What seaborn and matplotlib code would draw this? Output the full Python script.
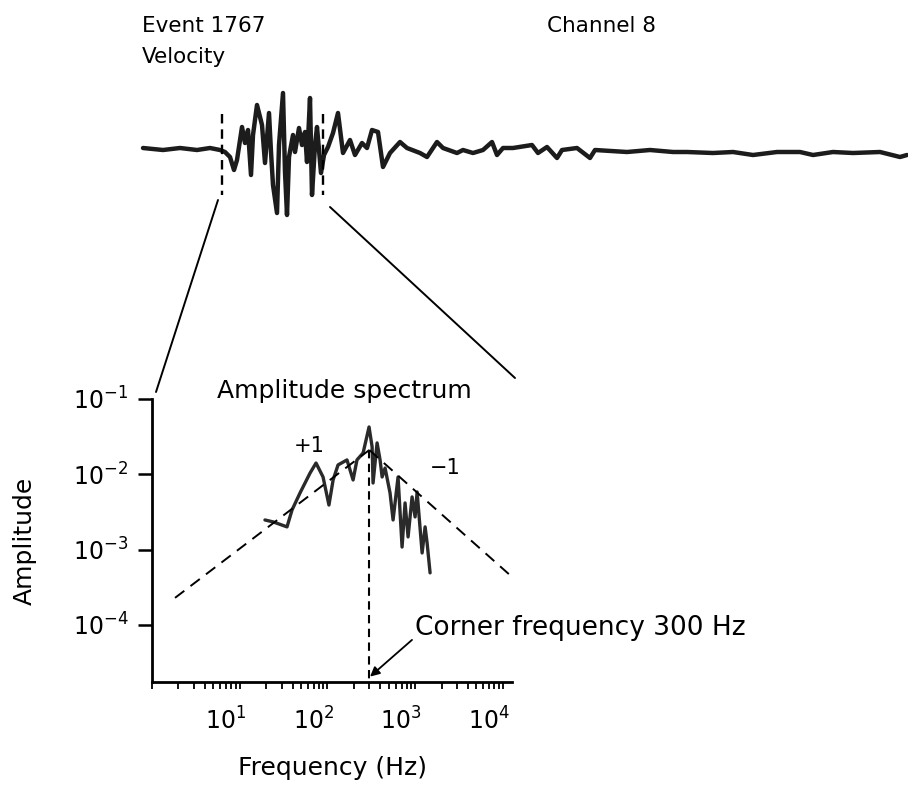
import matplotlib
matplotlib.use("Agg")
import matplotlib.pyplot as plt
import pandas as pd
import seaborn as sns
from matplotlib.lines import Line2D
from matplotlib.ticker import FixedLocator, LogLocator, NullLocator, NullFormatter
from matplotlib.transforms import ScaledTranslation

# Velocity trace (arbitrary units)
time_ms = [0.3, 2.3, 4.0, 5.7, 7.0, 8.0, 8.5, 9.0, 9.4, 9.7,
           10.2, 10.5, 10.8, 11.1, 11.3, 11.7, 12.2, 12.5, 12.9, 13.1,
           13.3, 13.7, 13.9, 14.3, 14.5, 14.7, 14.9, 15.3, 15.5, 15.9,
           16.2, 16.5, 16.7, 17.0, 17.2, 17.5, 17.7, 18.1, 18.4, 18.8,
           19.3, 19.8, 20.3, 21.0, 21.5, 22.2, 22.7, 23.2, 23.8, 24.3,
           25.0, 26.0, 26.7, 28.0, 28.7, 29.7, 30.3, 31.7, 32.3, 33.3,
           34.3, 35.2, 35.7, 36.3, 37.3, 39.2, 39.8, 40.7, 41.7, 42.2,
           43.7, 45.0, 45.5, 48.7, 51.0, 53.3, 54.7, 57.3, 59.3, 61.3,
           63.7, 66.0, 67.3, 69.3, 71.3, 74.0, 76.0, 76.7]
velocity = [0.2, 0.0, 0.2, 0.0, 0.2, 0.0, -0.2, -0.7, -2.0, -1.0,
            2.3, 0.7, 2.0, -2.5, 1.5, 4.5, 2.5, -1.3, 3.7, -0.2,
            -3.5, -6.3, 0.5, 5.7, -2.2, -6.5, -0.7, 1.5, -0.2, 2.2,
            0.5, 1.8, -1.2, 5.2, -4.5, 0.5, 2.3, -2.3, -0.5, 0.3,
            1.7, 3.7, -0.3, 1.0, -0.5, 0.7, 0.2, 2.0, 1.8, -1.7,
            -0.3, 0.8, 0.2, -0.3, -0.7, 0.8, 0.2, -0.3, 0.0, -0.3,
            0.0, 0.8, -0.5, 0.2, 0.2, 0.5, -0.3, 0.3, -0.8, 0.0,
            0.2, -0.8, 0.0, -0.2, 0.0, -0.2, -0.2, -0.3, -0.2, -0.5,
            -0.2, -0.2, -0.5, -0.2, -0.3, -0.2, -0.7, -0.5]
window_ms = [8.2, 18.3]
window_v = [3.6, -4.5]

# Amplitude spectrum of the windowed part
spec_freq = [19.4, 24, 34.6, 39.5, 48.7, 63.4, 74.1, 89.1, 104, 116,
             132, 167, 196, 217, 255, 298, 323, 331, 368, 398,
             420, 454, 517, 560, 638, 709, 767, 830, 922, 998,
             1052, 1200, 1298, 1368, 1479]
spec_amp = [2.47e-3, 2.33e-3, 2.0e-3, 3.36e-3, 5.65e-3, 1.04e-2, 1.41e-2, 9.2e-3, 3.9e-3, 8.4e-3,
            1.33e-2, 1.55e-2, 8.4e-3, 1.55e-2, 1.92e-2, 4.25e-2, 2.31e-2, 7.66e-3, 2.61e-2, 1.55e-2,
            9.2e-3, 1.21e-2, 5.65e-3, 2.47e-3, 9.2e-3, 1.08e-3, 4.16e-3, 1.47e-3, 5.0e-3, 2.71e-3,
            5.82e-3, 9.0e-4, 2.0e-3, 1.22e-3, 4.9e-4]

# slope +1 / -1 asymptotes and corner frequency
corner_hz = 300
corner_amp = 2.1e-2
fit_left_freq = [1.83, corner_hz]
fit_left_amp = [2.28e-4, corner_amp]
fit_right_freq = [corner_hz, 1.27e4]
fit_right_amp = [corner_amp, 4.33e-4]

x_ticks = [10, 100, 1000, 10000]
x_tick_labels = ['$10^{1}$', '$10^{2}$', '$10^{3}$', '$10^{4}$']
y_ticks = [1e-4, 1e-3, 1e-2, 1e-1]
y_tick_labels = ['$10^{-4}$', '$10^{-3}$', '$10^{-2}$', '$10^{-1}$']

sns.set_theme(style="ticks", rc={"axes.edgecolor": "black", "text.color": "black",
                                 "xtick.color": "black", "ytick.color": "black",
                                 "axes.labelcolor": "black"})
plt.rcParams['font.family'] = ['DejaVu Sans']

W, H = 908, 788
fig = plt.figure(figsize=(W / 100, H / 100), dpi=100)


def box(x0, y0, x1, y1):
    # pixel box (top-left origin) -> figure rect
    return [x0 / W, 1 - y1 / H, (x1 - x0) / W, (y1 - y0) / H]


def fpos(x, y):
    return x / W, 1 - y / H


# --- seismogram ---
ax_tr = fig.add_axes(box(140, 85, 908, 220))
trace = pd.DataFrame({'t': time_ms, 'v': velocity})
sns.lineplot(data=trace, x='t', y='v', ax=ax_tr, color='#1c1c1c', lw=3.2,
             estimator=None, sort=False)
for t0 in window_ms:
    ax_tr.plot([t0, t0], window_v, color='black', lw=1.7, ls=(0, (4, 2.5)))
ax_tr.set_xlim(0, 76.8)
ax_tr.set_ylim(-7.0, 6.5)
ax_tr.axis('off')

fig.text(*fpos(142, 32), 'Event 1767', fontsize=15.5, va='baseline', ha='left')
fig.text(*fpos(547, 32), 'Channel 8', fontsize=15.5, va='baseline', ha='left')
fig.text(*fpos(142, 63), 'Velocity', fontsize=15.5, va='baseline', ha='left')

# --- spectrum ---
ax_sp = fig.add_axes(box(152, 399, 512, 682))
ax_sp.set_xscale('log')
ax_sp.set_yscale('log')
sns.lineplot(x=spec_freq, y=spec_amp, ax=ax_sp, color='#2a2a2a', lw=2.4, estimator=None)
ax_sp.plot(fit_left_freq, fit_left_amp, color='black', lw=1.4, ls=(0, (6, 4)))
ax_sp.plot(fit_right_freq, fit_right_amp, color='black', lw=1.4, ls=(0, (6, 4)))
ax_sp.plot([corner_hz, corner_hz], [corner_amp, 1.74e-5], color='black', lw=1.5, ls=(0, (4, 2.6)))
ax_sp.set_xlim(1, 1.27e4)
ax_sp.set_ylim(10 ** -4.76, 1e-1)

ax_sp.spines[['top', 'right']].set_visible(False)
ax_sp.spines['left'].set_linewidth(2)
ax_sp.spines['bottom'].set_linewidth(2)

ax_sp.xaxis.set_major_locator(FixedLocator(x_ticks))
ax_sp.xaxis.set_minor_locator(LogLocator(base=10, subs=range(1, 10), numticks=20))
ax_sp.xaxis.set_minor_formatter(NullFormatter())
ax_sp.set_xticklabels(x_tick_labels)
ax_sp.yaxis.set_major_locator(FixedLocator(y_ticks))
ax_sp.yaxis.set_minor_locator(NullLocator())
ax_sp.set_yticklabels(y_tick_labels)
ax_sp.tick_params(axis='x', which='both', direction='out', length=5, width=1.3,
                  labelsize=17, pad=13)
ax_sp.tick_params(axis='y', which='major', direction='out', length=10, width=1.8,
                  labelsize=17, pad=7)
shift = ScaledTranslation(-0.14, 0, fig.dpi_scale_trans)
for lbl in ax_sp.get_xticklabels():
    lbl.set_transform(lbl.get_transform() + shift)

ax_sp.set_xlabel('Frequency (Hz)', fontsize=18, labelpad=16)
ax_sp.set_ylabel('Amplitude', fontsize=18, labelpad=26)

fig.text(*fpos(344, 391), 'Amplitude spectrum', fontsize=18, ha='center', va='center')
fig.text(*fpos(309, 446), '+1', fontsize=15, ha='center', va='center')
fig.text(*fpos(445, 468), '\u22121', fontsize=15, ha='center', va='center')
fig.text(*fpos(415, 628), 'Corner frequency 300 Hz', fontsize=19, ha='left', va='center')
ax_sp.annotate('', xy=(corner_hz * 1.02, 2.05e-5), xytext=(920, 6.3e-5),
               arrowprops=dict(arrowstyle='-|>', color='black', lw=1.3,
                               mutation_scale=14, shrinkA=0, shrinkB=0))

# zoom lines from the window to the spectrum panel
fig.add_artist(Line2D([218 / W, 156 / W], [1 - 200 / H, 1 - 392 / H],
                      transform=fig.transFigure, color='black', lw=1.4))
fig.add_artist(Line2D([330 / W, 515 / W], [1 - 207 / H, 1 - 378 / H],
                      transform=fig.transFigure, color='black', lw=1.4))

fig.savefig('out.png', dpi=100)
